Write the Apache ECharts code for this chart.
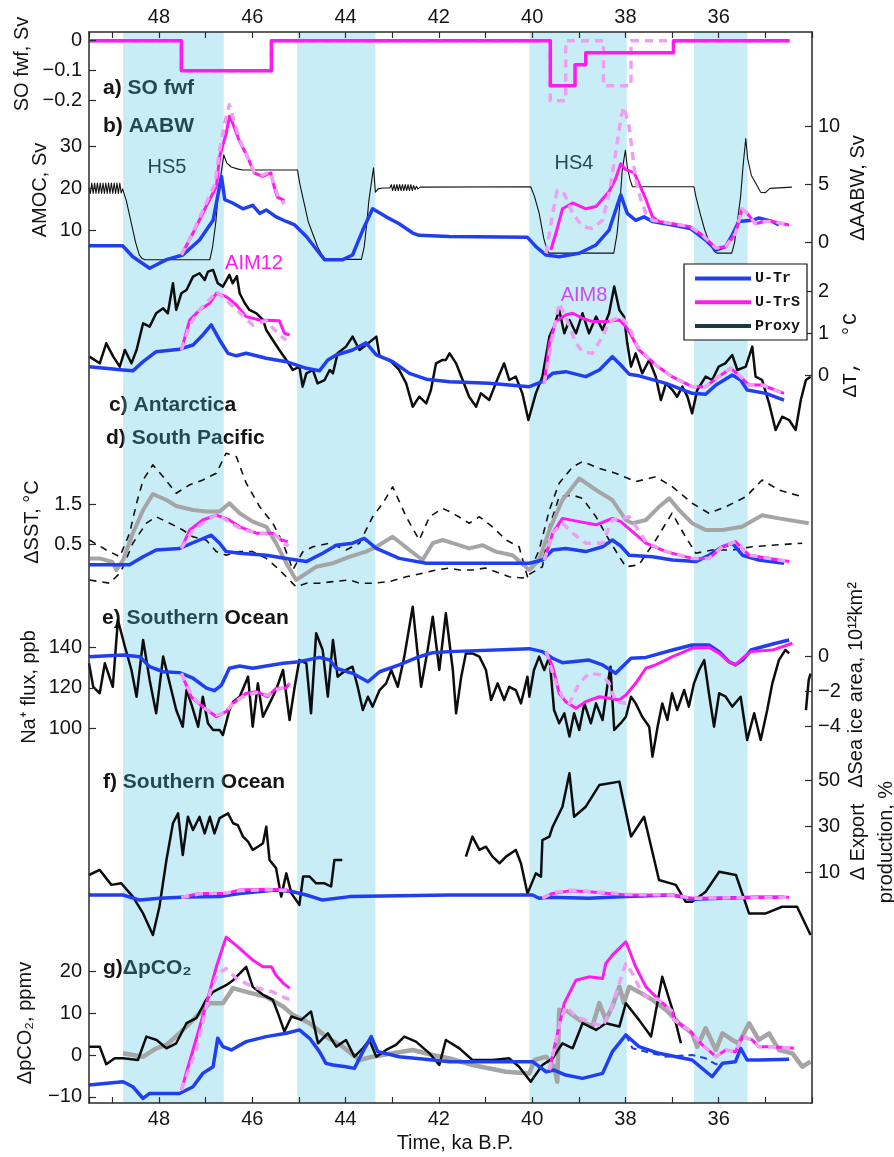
<!DOCTYPE html>
<html>
<head>
<meta charset="utf-8">
<script src="https://cdn.jsdelivr.net/npm/echarts@6/dist/echarts.min.js"></script>
<style>
html,body{margin:0;padding:0;background:#fff;}
#chart{width:894px;height:1157px;}
</style>
</head>
<body>
<div id="chart"></div>
<script>
// ---------------- DATA (time in ka B.P., values in axis units) ----------------
const X_LABELS = [36,38,40,42,44,46,48];
const BANDS = [[48.77,46.61],[45.04,43.36],[40.06,37.97],[36.53,35.38]];

// a) SO freshwater forcing (Sv)
const FWF_UTRS = [[49.5,0],[47.52,0],[47.52,-0.1],[45.59,-0.1],[45.59,0],[39.61,0],[39.61,-0.15],[39.08,-0.15],[39.08,-0.08],[38.85,-0.08],[38.85,-0.04],[36.97,-0.04],[36.97,0],[34.48,0]];
const FWF_DASH = [[49.5,0],[47.52,0],[47.52,-0.1],[45.59,-0.1],[45.59,0],[39.61,0],[39.61,-0.2],[39.28,-0.2],[39.28,0],[38.47,0],[38.47,-0.15],[37.88,-0.15],[37.88,0],[34.48,0]];

// b) AMOC (Sv, left) and dAABW (Sv, right)
const AMOC = [[49.5,20],[49.47,18.7],[49.44,21.2],[49.41,18.7],[49.38,21.2],[49.35,18.7],[49.32,21.2],[49.29,18.7],[49.26,21.2],[49.23,18.7],[49.2,21.2],[49.17,18.7],[49.14,21.2],[49.11,18.7],[49.08,21.2],[49.05,18.7],[49.02,21.2],[48.99,18.7],[48.96,21.2],[48.93,18.7],[48.9,21.2],[48.87,18.7],[48.84,21.2],[48.81,18.8],[48.78,19.8],
[48.7,17],[48.6,12],[48.5,7],[48.42,4],[48.36,3.2],[48.3,2.9],[46.91,2.9],[46.85,6],[46.78,12],[46.72,20],[46.66,24],[46.61,27.9],[46.55,26],[46.45,25],[46.3,24.5],[46.2,24.3],[45.03,24.3],[44.98,21],[44.9,17],[44.8,12],[44.7,9],[44.6,6],[44.5,4],[44.43,3],[43.66,3],[43.6,6],[43.55,11],[43.5,17],[43.45,21],[43.4,24.8],[43.36,19],[43.3,19.8],[43.2,20],[43.05,20],[43.02,20.8],[42.99,19.4],[42.96,20.8],[42.93,19.4],[42.9,20.8],[42.87,19.4],[42.84,20.8],[42.81,19.4],[42.78,20.8],[42.75,19.4],[42.72,20.8],[42.69,19.4],[42.66,20.8],[42.63,19.4],[42.6,20.8],[42.57,19.4],[42.54,20.6],[42.51,19.6],[42.48,20.4],[42.45,19.8],[42.4,20.2],[40.03,20.3],
[39.95,18],[39.85,14],[39.75,8],[39.7,6],[39.64,4.5],[38.25,4.5],[38.18,9],[38.12,16],[38.07,24],[38.03,27],[38.0,29],[37.96,25],[37.9,22],[37.85,20.3],[36.53,20.3],[36.49,18],[36.4,14],[36.3,10],[36.2,7],[36.1,5],[36.04,4.5],[35.72,4.5],[35.66,7],[35.6,12],[35.53,18],[35.48,25],[35.42,31.8],[35.38,27],[35.3,23],[35.2,21],[35.1,19],[35.0,18.9],[34.9,19.9],[34.43,20.2]];
const AABW_UTR = [[49.5,-0.3],[48.78,-0.3],[48.56,-1.25],[48.2,-2.25],[47.84,-1.5],[47.49,-1.1],[47.13,0.2],[46.84,1.9],[46.66,5.7],[46.59,3.7],[46.42,3.4],[46.2,2.9],[45.99,3.2],[45.84,2.5],[45.7,2.8],[45.49,2.2],[45.27,1.8],[45.09,1.5],[44.84,0.5],[44.56,-0.95],[44.45,-1.5],[44.06,-1.5],[43.85,-1.1],[43.63,1.06],[43.42,2.9],[43.13,2.2],[42.85,1.6],[42.56,0.8],[42.42,0.6],[41.78,0.5],[40.1,0.43],[39.92,-0.38],[39.7,-1.1],[39.42,-1.25],[38.99,-0.95],[38.63,-0.23],[38.35,1.06],[38.1,4.1],[37.96,2.5],[37.78,1.9],[37.6,2.2],[37.42,1.8],[36.99,1.5],[36.61,1.2],[36.28,0.2],[36.06,-0.67],[35.85,-0.38],[35.71,0.63],[35.57,1.8],[35.28,1.9],[35.14,2.1],[34.85,1.8],[34.71,1.5]];
const AABW_UTRS_1 = [[47.52,-1.1],[47.27,0.8],[46.99,3.1],[46.77,4.8],[46.7,7.4],[46.56,9.4],[46.49,10.9],[46.42,10.3],[46.28,8.8],[46.1,7.4],[45.96,6.0],[45.78,5.7],[45.6,6.0],[45.53,4.8],[45.46,3.9],[45.31,3.6]];
const AABW_UTRS_2 = [[39.6,-0.67],[39.49,0.78],[39.35,2.9],[39.13,3.4],[38.85,2.9],[38.63,3.1],[38.35,4.4],[38.21,5.5],[38.1,6.8],[38.0,6.3],[37.81,6.0],[37.71,5.1],[37.56,3.7],[37.42,2.2],[37.28,1.8],[36.99,1.6],[36.61,1.35],[36.35,0.63],[36.06,-0.5],[35.85,-0.38],[35.64,0.78],[35.5,2.9],[35.39,2.5],[35.21,1.6],[35.03,1.8],[34.85,1.8],[34.49,1.5]];
const AABW_DASH_1 = [[47.52,-1.1],[47.3,0.6],[47.0,3.3],[46.8,5],[46.7,8],[46.58,10.5],[46.49,11.9],[46.4,10.6],[46.28,9],[46.1,7.3],[45.96,6.1],[45.78,5.8],[45.62,6.1],[45.53,5],[45.45,4],[45.31,3.3]];
const AABW_DASH_2 = [[39.7,-0.95],[39.56,2.5],[39.46,4.5],[39.31,4.2],[39.13,2.5],[38.92,1.35],[38.71,1.2],[38.49,1.9],[38.35,4.2],[38.21,7.7],[38.09,10.9],[38.03,11.7],[37.92,10],[37.85,7.7],[37.78,5.4],[37.67,3.7],[37.56,2.5],[37.42,1.9],[37.28,1.8],[36.99,1.6],[36.61,1.35],[36.35,0.63],[36.06,-0.5],[35.85,-0.38],[35.64,0.78],[35.5,2.9],[35.39,2.5],[35.21,1.6],[35.03,1.8],[34.85,1.8],[34.49,1.5]];

// c) Antarctica dT (deg C, right)
const ANT_PROXY = [[49.49,0.44],[49.27,0.28],[49.13,0.76],[48.98,0.44],[48.84,0.2],[48.73,0.6],[48.59,0.28],[48.48,0.6],[48.34,1.24],[48.2,1.16],[48.06,1.48],[47.91,1.6],[47.81,1.48],[47.7,2.2],[47.63,1.56],[47.52,1.96],[47.41,2.04],[47.27,2.36],[47.13,2.44],[47.02,2.28],[46.95,2.48],[46.84,2.52],[46.74,2.2],[46.63,2.12],[46.49,2.4],[46.42,2.2],[46.33,2.37],[46.27,1.96],[46.16,1.72],[46.06,1.56],[45.91,1.48],[45.77,1.32],[45.7,1.08],[45.56,0.84],[45.42,0.6],[45.27,0.36],[45.13,0.12],[44.99,0.2],[44.92,-0.28],[44.84,0.04],[44.7,0.12],[44.6,-0.2],[44.45,-0.12],[44.34,0.12],[44.27,0.04],[44.17,0.52],[43.99,0.68],[43.85,0.92],[43.7,0.6],[43.56,0.72],[43.34,0.92],[43.27,0.44],[43.06,0.36],[42.85,0.12],[42.7,-0.2],[42.56,-0.76],[42.42,-0.52],[42.27,-0.68],[42.17,-0.36],[42.06,0.28],[41.92,0.36],[41.85,0.36],[41.77,0.52],[41.63,0.28],[41.49,-0.12],[41.35,-0.52],[41.2,-0.76],[41.1,-0.44],[40.92,-0.6],[40.78,-0.2],[40.6,0.28],[40.49,-0.12],[40.35,-0.04],[40.21,-0.44],[40.08,-1.08],[39.92,-0.44],[39.78,-0.04],[39.63,0.92],[39.53,1.16],[39.42,1.56],[39.31,1.0],[39.2,1.32],[39.06,1.0],[38.92,1.48],[38.78,1.0],[38.63,1.4],[38.49,1.08],[38.35,1.48],[38.24,2.12],[38.13,1.56],[38.03,1.4],[37.96,0.76],[37.88,0.2],[37.78,0.52],[37.64,0.04],[37.49,0.36],[37.35,-0.04],[37.24,-0.6],[37.13,-0.2],[36.99,-0.36],[36.89,-0.52],[36.78,-0.28],[36.67,-0.52],[36.57,-0.92],[36.46,-0.36],[36.28,-0.04],[36.14,-0.12],[36.0,0.2],[35.86,0.28],[35.71,0.48],[35.6,0.12],[35.42,0.2],[35.28,0.68],[35.21,-0.04],[35.07,-0.12],[34.92,-0.68],[34.78,-1.32],[34.64,-1.0],[34.49,-1.08],[34.35,-1.32],[34.24,-0.6],[34.13,-0.12],[34.03,-0.04]];
const ANT_UTR = [[49.49,0.2],[48.77,0.12],[48.56,0.1],[48.34,0.32],[48.06,0.56],[47.56,0.62],[47.27,0.72],[47.06,0.96],[46.88,1.2],[46.7,0.84],[46.52,0.52],[46.34,0.46],[46.13,0.52],[45.7,0.4],[45.27,0.32],[44.84,0.16],[44.56,0.1],[44.38,0.36],[44.2,0.48],[43.85,0.6],[43.56,0.77],[43.34,0.48],[42.99,0.32],[42.63,0.04],[42.27,-0.1],[41.77,-0.16],[40.92,-0.2],[40.06,-0.28],[39.78,-0.16],[39.56,0.04],[39.28,0.08],[38.85,-0.04],[38.56,0.12],[38.28,0.44],[38.1,0.24],[37.92,0.02],[37.71,-0.02],[37.13,-0.2],[36.57,-0.44],[36.28,-0.46],[36.06,-0.24],[35.71,0],[35.53,-0.12],[35.39,-0.36],[34.99,-0.44],[34.6,-0.6]];
const ANT_UTRS_1 = [[47.52,0.6],[47.34,1.32],[47.13,1.56],[46.91,1.72],[46.77,1.96],[46.56,1.88],[46.34,1.68],[46.13,1.4],[45.84,1.32],[45.42,1.3],[45.31,1.0],[45.2,0.96]];
const ANT_UTRS_2 = [[39.74,-0.2],[39.63,0.76],[39.49,1.28],[39.28,1.44],[39.13,1.48],[38.92,1.36],[38.71,1.28],[38.42,1.28],[38.13,1.32],[37.99,1.16],[37.88,0.96],[37.71,0.6],[37.35,0.24],[37.0,-0.04],[36.57,-0.28],[36.28,-0.28],[36.0,-0.04],[35.74,0.16],[35.57,0],[35.35,-0.24],[35.07,-0.24],[34.6,-0.44]];
const ANT_DASH_1 = [[47.52,0.6],[47.34,1.2],[47.13,1.56],[46.84,1.9],[46.77,2.0],[46.56,1.8],[46.27,1.5],[45.99,1.2],[45.7,1.3],[45.42,0.96],[45.27,0.84]];
const ANT_DASH_2 = [[39.74,-0.2],[39.56,0.92],[39.42,1.72],[39.28,1.4],[39.06,0.76],[38.92,0.56],[38.71,0.52],[38.49,0.92],[38.35,1.28],[38.1,1.4],[37.92,1.16],[37.75,0.7],[37.5,0.4],[37.35,0.24],[37.0,-0.04],[36.57,-0.28],[36.28,-0.28],[36.0,-0.04],[35.74,0.16],[35.57,0],[35.35,-0.24],[35.07,-0.24],[34.6,-0.44]];

// d) South Pacific dSST (deg C, left)
const SST_PROXY = [[49.49,0.14],[49.27,0.14],[49.0,0.05],[48.91,-0.15],[48.77,0.1],[48.56,0.77],[48.34,1.35],[48.13,1.75],[47.84,1.6],[47.63,1.45],[47.27,1.35],[46.99,1.31],[46.7,1.31],[46.49,1.52],[46.27,1.27],[45.99,1.06],[45.7,0.93],[45.49,0.52],[45.27,0.02],[45.06,-0.4],[44.63,-0.07],[44.27,0.02],[43.92,0.18],[43.56,0.31],[43.34,0.43],[42.99,0.68],[42.63,0.35],[42.35,0.1],[42.13,0.52],[41.92,0.6],[41.7,0.52],[41.35,0.39],[41.06,0.47],[40.78,0.31],[40.42,0.22],[40.06,-0.15],[39.85,0.1],[39.63,0.85],[39.35,1.6],[38.99,2.14],[38.63,1.85],[38.28,1.6],[37.99,1.1],[37.85,1.02],[37.56,1.1],[37.28,1.43],[37.06,1.64],[36.85,1.35],[36.57,1.02],[36.28,0.85],[35.92,0.85],[35.5,0.93],[35.07,1.22],[34.71,1.14],[34.07,1.02]];
const SST_UPPER = [[49.49,0.6],[49.13,0.35],[48.84,0.18],[48.63,0.77],[48.48,1.52],[48.34,2.1],[48.13,2.48],[47.91,2.18],[47.63,1.77],[47.34,1.98],[47.06,2.1],[46.77,2.27],[46.56,2.77],[46.34,2.68],[46.13,2.02],[45.84,1.43],[45.56,1.02],[45.34,0.52],[45.13,-0.15],[44.92,0.3],[44.7,0.43],[44.34,0.52],[43.99,0.35],[43.7,0.52],[43.42,1.18],[43.2,1.52],[42.99,1.93],[42.7,1.18],[42.42,0.6],[42.2,1.18],[41.92,1.39],[41.7,1.27],[41.35,1.02],[41.13,1.18],[40.85,0.93],[40.56,0.6],[40.28,0.43],[40.1,-0.32],[39.85,0.35],[39.63,1.35],[39.42,2.02],[39.13,2.43],[38.92,2.56],[38.56,2.39],[38.21,2.27],[37.78,2.06],[37.35,2.18],[36.99,1.93],[36.57,1.52],[36.21,1.27],[35.85,1.43],[35.42,1.68],[35.07,2.1],[34.71,1.85],[34.21,1.68]];
const SST_LOWER = [[49.49,-0.4],[49.06,-0.48],[48.84,-0.23],[48.77,-0.07],[48.56,0.52],[48.27,1.02],[48.06,1.18],[47.77,1.02],[47.49,0.85],[47.27,0.68],[46.99,0.6],[46.77,0.31],[46.56,0.22],[46.27,0.31],[45.99,0.31],[45.7,0.14],[45.49,-0.07],[45.27,-0.32],[45.06,-0.57],[44.84,-0.48],[44.56,-0.48],[44.27,-0.44],[43.91,-0.4],[43.7,-0.48],[43.42,-0.48],[43.06,-0.44],[42.7,-0.32],[42.35,-0.23],[42.06,-0.15],[41.77,-0.1],[41.56,-0.15],[41.28,-0.15],[41.0,-0.1],[40.49,-0.32],[40.2,-0.35],[39.78,-0.07],[39.63,0.93],[39.42,1.68],[39.13,1.72],[38.92,1.64],[38.63,1.18],[38.35,0.6],[38.13,0.18],[37.99,-0.07],[37.71,-0.02],[37.35,0.6],[37.0,1.27],[36.71,0.68],[36.49,0.27],[36.14,0.35],[35.71,0.35],[35.28,0.43],[34.85,0.47],[34.21,0.52]];
const SST_UTR = [[49.49,-0.02],[48.63,-0.02],[48.34,0.18],[48.06,0.35],[47.56,0.39],[47.13,0.6],[46.88,0.72],[46.7,0.52],[46.56,0.31],[46.27,0.27],[45.7,0.22],[45.27,0.14],[44.84,0.06],[44.49,0.27],[44.2,0.47],[43.85,0.52],[43.6,0.64],[43.34,0.39],[42.85,0.14],[42.27,0.02],[41.77,0.02],[40.06,0.02],[39.78,0.1],[39.56,0.35],[39.28,0.39],[38.85,0.31],[38.49,0.43],[38.28,0.6],[38.1,0.45],[37.92,0.22],[37.42,0.18],[36.99,0.1],[36.49,0.06],[36.21,0.22],[35.92,0.43],[35.71,0.52],[35.49,0.22],[35.14,0.1],[34.6,0.02]];
const SST_UTRS_1 = [[47.52,0.39],[47.34,0.85],[47.06,1.1],[46.77,1.22],[46.49,1.1],[46.27,0.93],[45.91,0.77],[45.56,0.77],[45.38,0.6],[45.24,0.56]];
const SST_UTRS_2 = [[39.74,0.1],[39.56,0.77],[39.35,1.14],[38.99,1.06],[38.63,0.98],[38.28,1.14],[38.1,1.06],[37.85,0.81],[37.56,0.52],[37.13,0.31],[36.57,0.14],[36.21,0.14],[35.92,0.43],[35.64,0.56],[35.35,0.22],[34.49,0.06]];
const SST_DASH_1 = [[47.52,0.39],[47.3,0.8],[47.0,1.08],[46.75,1.25],[46.5,1.05],[46.2,0.85],[45.9,0.78],[45.5,0.72],[45.3,0.5],[45.22,0.45]];
const SST_DASH_2 = [[39.74,0.1],[39.56,0.77],[39.35,1.02],[39.13,0.77],[38.85,0.52],[38.49,0.52],[38.28,1.1],[37.92,1.18],[37.78,0.95],[37.56,0.55],[37.13,0.31],[36.57,0.14],[36.21,0.14],[35.92,0.43],[35.64,0.56],[35.35,0.22],[34.49,0.06]];

// e) Southern Ocean: Na+ flux (ppb, left) and dSea ice area (1e12 km2, right)
const NA_PROXY_1 = [[49.5,132.1],[49.41,120.5],[49.27,117.3],[49.16,132.1],[48.99,120.5],[48.88,153.5],[48.73,140.3],[48.59,128.8],[48.48,115.6],[48.34,143.6],[48.2,123.9],[48.06,107.4],[47.91,135.4],[47.77,122.2],[47.63,109],[47.49,100.8],[47.41,118.9],[47.31,112.3],[47.16,100.8],[47.06,115.6],[46.95,102.5],[46.84,99.2],[46.7,99.2],[46.63,96.7],[46.49,109],[46.41,113.1],[46.27,115.6],[46.09,125.5],[45.99,100.8],[45.88,122.2],[45.77,105.7],[45.63,112.3],[45.49,118.9],[45.34,128.8],[45.2,104.1],[45.09,120.5],[44.99,133.7],[44.84,132.1],[44.74,107.4],[44.63,146.9],[44.49,138.7],[44.38,115.6],[44.27,143.6],[44.17,125.5],[43.99,128.8],[43.85,130.4],[43.74,120.5],[43.63,109],[43.52,115.6],[43.42,110.7],[43.27,118.9],[43.13,122.2],[43.02,128.8],[42.88,120.5],[42.74,135.4],[42.56,160],[42.38,120.5],[42.24,138.7],[42.13,155.1],[41.99,128.8],[41.85,156.8],[41.7,128.8],[41.63,107.4],[41.52,125.5],[41.42,137],[41.28,137],[41.13,135.4],[40.99,128.8],[40.88,114],[40.74,122.2],[40.6,114],[40.49,120.5],[40.35,118.9],[40.24,112.3],[40.1,125.5],[40.06,115.6],[39.96,128.8],[39.85,135.4],[39.74,128.8],[39.63,135.4],[39.53,109],[39.42,102.5],[39.31,107.4],[39.2,95.9],[39.1,107.4],[38.99,99.2],[38.88,112.3],[38.74,102.5],[38.63,112.3],[38.49,104.1],[38.39,120.5],[38.32,130.4],[38.24,99.2],[38.1,102.5],[37.99,105.7],[37.88,115.6],[37.78,112.3],[37.64,105.7],[37.49,100.8],[37.42,86],[37.31,100.8],[37.21,112.3],[37.1,104.1],[37.0,117.3],[36.89,109],[36.74,118.9],[36.64,110.7],[36.53,122.2],[36.42,128.8],[36.31,133.7],[36.21,117.3],[36.1,100.8],[35.99,117.3],[35.85,115.6],[35.71,110.7],[35.53,115.6],[35.39,94.2],[35.24,107.4],[35.1,94.2],[34.96,109],[34.85,122.2],[34.71,133.7],[34.57,138.7],[34.49,137]];
const NA_PROXY_2 = [[34.13,109],[34.07,123.9],[34.03,127]];
const ICE_UTR = [[49.5,0],[48.77,0.1],[48.41,0],[48.2,-0.57],[47.91,-0.86],[47.56,-0.91],[47.27,-1.23],[46.98,-1.8],[46.81,-1.94],[46.66,-1.62],[46.49,-0.66],[46.27,-0.53],[45.99,-0.66],[45.7,-0.53],[45.34,-0.38],[44.99,-0.29],[44.56,-0.04],[44.34,-0.19],[44.2,-0.66],[43.85,-0.95],[43.52,-1.43],[43.27,-0.86],[42.85,-0.47],[42.42,0],[42.13,0.23],[41.77,0.29],[40.06,0.46],[39.78,0.29],[39.56,-0.09],[39.35,-0.34],[38.78,-0.19],[38.49,-0.47],[38.21,-0.95],[37.88,-0.09],[37.56,-0.04],[36.99,0.38],[36.57,0.67],[36.21,0.67],[35.99,0.29],[35.78,-0.29],[35.64,-0.47],[35.49,-0.19],[35.31,0.38],[35.06,0.57],[34.78,0.77],[34.49,0.95]];
const ICE_UTRS_1 = [[47.52,-0.95],[47.31,-2.29],[47.06,-2.86],[46.77,-3.43],[46.56,-3.14],[46.41,-2.66],[46.13,-2.09],[45.91,-2.0],[45.67,-2.29],[45.49,-1.8],[45.28,-1.8],[45.2,-1.52]];
const ICE_UTRS_2 = [[39.7,0.29],[39.56,-0.57],[39.42,-2.09],[39.28,-2.57],[39.06,-2.95],[38.85,-2.57],[38.56,-2.29],[38.35,-2.38],[38.13,-2.47],[37.99,-2.19],[37.78,-1.52],[37.56,-0.66],[37.35,-0.47],[36.99,0],[36.57,0.48],[36.21,0.54],[35.99,0.19],[35.78,-0.29],[35.64,-0.47],[35.49,-0.09],[35.31,0.29],[34.85,0.38],[34.42,0.77]];
const ICE_DASH_1 = [[47.52,-0.95],[47.3,-2.2],[47.06,-2.9],[46.77,-3.35],[46.56,-3.2],[46.41,-2.6],[46.13,-2.2],[45.91,-2.05],[45.67,-2.2],[45.49,-1.9],[45.28,-1.75],[45.2,-1.6]];
const ICE_DASH_2 = [[39.7,0.29],[39.49,-1.52],[39.35,-2.29],[39.2,-2.66],[38.99,-1.52],[38.78,-0.95],[38.49,-1.05],[38.35,-1.52],[38.21,-2.57],[37.99,-2.66],[37.85,-2.57]];

// f) Southern Ocean export production (%, right)
const EXP_PROXY_1 = [[49.5,9.0],[49.27,11.2],[49.02,4.7],[48.81,5.4],[48.56,-0.4],[48.34,-7.7],[48.13,-17.1],[47.99,-4.8],[47.84,15.5],[47.7,31.5],[47.59,35.8],[47.49,17.7],[47.38,34.3],[47.27,28.6],[47.13,34.3],[47.02,27.1],[46.91,34.3],[46.81,27.1],[46.7,33.7],[46.52,35.8],[46.41,31.5],[46.31,30.7],[46.2,25.7],[46.09,23.5],[45.99,19.9],[45.88,21.3],[45.77,22.8],[45.7,30],[45.63,15.5],[45.49,12],[45.38,-0.4],[45.27,9.7],[45.16,1.0],[44.99,-4.0],[44.91,8.3],[44.77,8.3],[44.63,5.4],[44.45,5.4],[44.31,4.0],[44.24,15.5],[44.07,15.5]];
const EXP_PROXY_2 = [[41.42,17],[41.28,25.7],[41.13,19.9],[40.99,21.3],[40.85,17],[40.7,14.1],[40.56,17],[40.35,19.9],[40.24,14.1],[40.1,1.0],[39.92,9.7],[39.81,8.3],[39.78,24.2],[39.63,25.7],[39.56,30],[39.35,38.7],[39.2,53.2],[39.1,34.3],[38.85,38.7],[38.56,48.1],[38.13,49.6],[37.88,25.7],[37.6,34.3],[37.28,6.8],[36.92,4.7],[36.71,-2.6],[36.57,-2.6],[36.28,1.7],[35.99,10.4],[35.63,9.0],[35.35,-7.7],[34.99,-7.7],[34.64,-4.8],[34.32,-4.8],[34.03,-17.1]];
const EXP_UTR = [[49.5,0.3],[48.77,0.3],[48.41,-1.9],[47.99,-1.1],[47.41,-0.6],[46.7,-0.4],[46.27,1.0],[45.49,2.5],[45.13,1.7],[44.84,0.3],[44.49,-1.9],[43.91,-0.4],[41.77,0.3],[39.99,0.3],[39.85,-1.1],[39.63,-0.7],[38.78,-1.1],[37.99,-0.4],[36.99,0.3],[36.57,-1.5],[35.92,-1.1],[35.21,-0.7],[34.6,-0.7]];
const EXP_UTRS_1 = [[47.52,-0.8],[47.13,1.0],[46.56,1.0],[46.27,2.5],[45.7,2.8],[45.27,2.5],[45.2,1.7]];
const EXP_UTRS_2 = [[39.78,-1.1],[39.56,1.0],[39.2,2.1],[38.78,1.7],[37.99,0.3],[36.99,0.3],[36.57,-1.1],[34.49,-0.7]];
const EXP_DASH_1 = [[47.52,-0.8],[47.13,0.8],[46.56,1.2],[46.27,2.2],[45.7,2.6],[45.27,2.3],[45.2,1.9]];
const EXP_DASH_2 = [[39.78,-1.1],[39.56,1.3],[39.2,2.4],[38.78,1.9],[37.99,0.6],[36.99,0.3],[36.57,-1.1],[34.49,-0.7]];

// g) dpCO2 (ppmv, left)
const CO2_PROXY = [[49.5,2.0],[49.27,2.0],[49.13,-2.2],[48.95,-0.8],[48.77,-0.8],[48.45,-1.2],[48.27,4.4],[48.05,3.6],[47.84,1.6],[47.63,2.8],[47.41,7.6],[47.2,8.8],[46.99,13.2],[46.84,15.1],[46.56,16.7],[46.41,17.9],[46.13,21.1],[45.99,16.3],[45.77,14.4],[45.56,13.2],[45.45,10.0],[45.31,5.6],[45.16,9.2],[44.95,8.4],[44.74,10.4],[44.59,2.8],[44.38,5.2],[44.2,2.0],[43.99,3.6],[43.81,-0.4],[43.63,1.6],[43.49,3.6],[43.34,-0.4],[43.13,1.2],[42.92,2.4],[42.74,4.4],[42.49,3.2],[42.2,0.4],[41.99,-2.4],[41.85,3.6],[41.56,1.6],[41.28,-1.2],[40.85,-1.2],[40.49,-0.8],[40.28,-2.8],[40.03,-6.4],[39.78,-2.4],[39.56,-0.8],[39.35,2.8],[39.13,1.6],[38.92,7.6],[38.63,6.0],[38.42,7.6],[38.13,6.8],[37.99,12.4],[37.71,8.4],[37.45,4.4],[37.21,18.7],[36.99,10.8],[36.81,2.8]];
const CO2_GRAY = [[48.77,0.4],[48.34,-0.4],[48.06,1.6],[47.84,2.4],[47.56,5.2],[47.34,7.6],[47.13,10.0],[46.91,12.4],[46.63,12.4],[46.41,16.0],[46.13,15.1],[45.7,13.9],[45.34,11.6],[45.13,9.6],[44.77,7.6],[44.42,4.4],[44.06,2.0],[43.7,-1.2],[43.42,-0.4],[42.99,0.4],[42.56,1.2],[42.13,0],[41.77,-0.8],[41.28,-2.4],[40.56,-4.0],[40.06,-4.4],[39.95,-1.2],[39.7,-0.4],[39.53,-2.8],[39.46,-6.4],[39.42,10.8],[39.24,10.4],[38.99,8.4],[38.71,6.8],[38.56,12.4],[38.42,8.4],[38.28,11.6],[38.13,16.3],[38.03,12.4],[37.92,16.3],[37.71,15.1],[37.42,13.2],[37.13,10.8],[36.85,7.6],[36.57,5.2],[36.46,2.0],[36.28,6.4],[36.06,1.2],[35.92,5.2],[35.71,3.6],[35.57,2.8],[35.35,7.6],[35.14,3.6],[34.92,5.2],[34.71,1.2],[34.42,0.4],[34.21,-2.8],[34.03,-1.6]];
const CO2_UTR = [[49.5,-7.2],[48.77,-6.4],[48.56,-7.6],[48.34,-10.4],[48.2,-9.2],[47.56,-9.2],[47.27,-7.6],[47.06,-4.4],[46.84,-2.8],[46.74,4.0],[46.63,2.0],[46.45,1.2],[46.13,3.2],[45.7,4.4],[45.27,5.2],[44.99,6.0],[44.77,4.0],[44.56,0.8],[44.42,-2.0],[44.27,-2.4],[43.99,-2.8],[43.81,-3.2],[43.63,0.8],[43.45,4.4],[43.31,0.8],[42.85,-0.4],[42.13,-1.2],[41.77,-1.6],[39.99,-1.6],[39.7,-4.0],[39.53,-3.6],[39.28,-4.8],[38.92,-5.6],[38.49,-4.4],[38.28,0.8],[37.99,4.8],[37.71,2.0],[37.28,0.4],[36.57,-1.2],[36.14,-5.2],[35.92,-2.0],[35.64,-1.6],[35.53,1.6],[35.39,-1.2],[35.14,-1.2],[34.49,-1.0]];
const CO2_UTR_DASH = [[37.99,4.8],[37.85,1.6],[37.13,-0.4],[36.57,0],[36.28,-0.8],[36.06,-2.2],[35.92,-2.0]];
const CO2_UTRS_1 = [[47.52,-8.4],[47.27,1.2],[46.98,12.4],[46.77,21.1],[46.56,28.2],[46.27,25.5],[45.99,22.7],[45.77,21.1],[45.59,21.1],[45.49,19.1],[45.34,17.2],[45.2,16.0]];
const CO2_UTRS_2 = [[39.63,-3.6],[39.49,3.6],[39.31,12.4],[39.06,17.9],[38.78,18.7],[38.49,18.3],[38.42,21.9],[38.28,23.9],[37.99,27.1],[37.78,21.1],[37.56,16.3],[37.28,13.2],[36.99,10.4],[36.96,8.4],[36.64,6.0],[36.35,2.4],[36.06,-0.4],[35.85,1.2],[35.64,0.8],[35.49,4.4],[35.28,3.6],[35.14,2.0],[34.85,2.0],[34.39,1.6]];
const CO2_DASH_1 = [[47.52,-8.4],[47.2,1.2],[46.91,14.8],[46.74,19.5],[46.56,20.7],[46.34,18.3],[45.99,16.3],[45.56,15.1],[45.2,13.2]];
const CO2_DASH_2 = [[39.63,-3.6],[39.4,8.0],[39.28,11.6],[39.06,9.2],[38.78,8.0],[38.49,6.8],[38.31,10.8],[38.13,17.2],[37.99,21.9],[37.85,19.5],[37.71,16.3],[37.56,14.0],[37.28,13.2],[36.99,10.4],[36.96,8.4],[36.64,6.0],[36.35,2.4],[36.06,-0.4],[35.85,1.2],[35.64,0.8],[35.49,4.4],[35.28,3.6],[35.14,2.0],[34.85,2.0],[34.39,1.6]];

// ---------------- LAYOUT ----------------
const FONT = "'Liberation Sans', Arial, Helvetica, sans-serif";
const MONO = "'Liberation Mono', 'DejaVu Sans Mono', monospace";
const BLUE = '#1f3ff0', MAG = '#ff1af0', PINK = '#eda0f2', PROXY = '#0d0d0d', GRAY = '#a5a5a5', AXC = '#2a2a2a', TXC = '#141414';
const LEFT = 89, RIGHT = 82, TOP = 32, BOTTOM = 54;
const T_MIN = 34, T_MAX = 49.5;

const PANELS = [
  {side:'left',  min:-0.2, max:0,   interval:0.1, yTop:40.7,  yBot:100.7},   // 1 fwf
  {side:'left',  min:10,   max:30,  interval:10,  yTop:146,   yBot:230},     // 2 AMOC
  {side:'right', min:0,    max:10,  interval:5,   yTop:126.7, yBot:242.3},   // 3 dAABW
  {side:'right', min:0,    max:2,   interval:1,   yTop:291.6, yBot:375},     // 4 dT
  {side:'left',  min:0.5,  max:1.5, interval:1,   yTop:504,   yBot:544},     // 5 dSST
  {side:'left',  min:100,  max:140, interval:20,  yTop:647.3, yBot:728.3},   // 6 Na
  {side:'right', min:-4,   max:0,   interval:2,   yTop:656.7, yBot:726.7},   // 7 sea ice
  {side:'right', min:10,   max:50,  interval:20,  yTop:780.7, yBot:872.7},   // 8 export
  {side:'left',  min:-10,  max:20,  interval:10,  yTop:971.4, yBot:1096.8}   // 9 pCO2
];

const minus = v => String(v).replace('-', '\u2212');
const xLabel = v => (X_LABELS.some(t => Math.abs(t - v) < 1e-6) ? String(v) : '');

const grids = [{left:LEFT, right:RIGHT, top:TOP, bottom:BOTTOM}];
const xAxes = [
  {gridIndex:0, type:'value', position:'bottom', min:T_MIN, max:T_MAX, interval:1, inverse:true, z:30,
   axisLine:{show:true, onZero:false, lineStyle:{color:AXC, width:1.5}},
   axisTick:{show:true, inside:true, length:6, lineStyle:{color:AXC, width:1.2}},
   axisLabel:{show:true, margin:6, fontSize:20, fontFamily:FONT, color:TXC, formatter:xLabel},
   splitLine:{show:false}},
  {gridIndex:0, type:'value', position:'top', min:T_MIN, max:T_MAX, interval:1, inverse:true, z:30,
   axisLine:{show:true, onZero:false, lineStyle:{color:AXC, width:1.5}},
   axisTick:{show:true, inside:true, length:6, lineStyle:{color:AXC, width:1.2}},
   axisLabel:{show:true, margin:5, fontSize:20, fontFamily:FONT, color:TXC, formatter:xLabel},
   splitLine:{show:false}}
];
const yAxes = [
  {gridIndex:0, type:'value', position:'left', min:0, max:1, z:30, axisLine:{show:true, onZero:false, lineStyle:{color:AXC, width:1.5}}, axisTick:{show:false}, axisLabel:{show:false}, splitLine:{show:false}},
  {gridIndex:0, type:'value', position:'right', min:0, max:1, z:30, axisLine:{show:true, onZero:false, lineStyle:{color:AXC, width:1.5}}, axisTick:{show:false}, axisLabel:{show:false}, splitLine:{show:false}}
];
PANELS.forEach((p, i) => {
  const g = i + 1;
  grids.push({left:LEFT, right:RIGHT, top:p.yTop, height:p.yBot - p.yTop});
  xAxes.push({gridIndex:g, type:'value', min:T_MIN, max:T_MAX, inverse:true, show:false});
  yAxes.push({gridIndex:g, type:'value', position:p.side, min:p.min, max:p.max, interval:p.interval, z:30,
    axisLine:{show:false, onZero:false},
    axisTick:{show:true, inside:true, length:7, lineStyle:{color:AXC, width:1.2}},
    axisLabel:{show:true, margin:p.side === 'left' ? 7 : 6, fontSize:20, fontFamily:FONT, color:TXC, formatter:minus},
    splitLine:{show:false}});
});

function L(panel, data, color, width, z, dash) {
  return {type:'line', xAxisIndex:panel + 1, yAxisIndex:panel + 1, data:data, symbol:'none', clip:false,
    silent:true, animation:false, z:z, lineStyle:{color:color, width:width, type:dash || 'solid', cap:'butt', join:'round'}};
}

const series = [
  {type:'line', xAxisIndex:0, yAxisIndex:0, data:[], symbol:'none', silent:true, z:20,
   markArea:{silent:true, itemStyle:{color:'rgba(75,195,230,0.30)'}, data:BANDS.map(b => [{xAxis:b[0]}, {xAxis:b[1]}])}},
  L(1, FWF_DASH, PINK, 3.5, 3, [8,6]),
  L(1, FWF_UTRS, MAG, 3.5, 4),
  L(2, AMOC, '#111', 1.1, 2),
  L(3, AABW_UTR, BLUE, 3.5, 3),
  L(3, AABW_UTRS_1, MAG, 3, 4), L(3, AABW_UTRS_2, MAG, 3, 4),
  L(3, AABW_DASH_1, PINK, 3.5, 5, [8,6]), L(3, AABW_DASH_2, PINK, 3.5, 5, [8,6]),
  L(4, ANT_PROXY, PROXY, 2.5, 2),
  L(4, ANT_UTR, BLUE, 3.5, 3),
  L(4, ANT_UTRS_1, MAG, 3, 4), L(4, ANT_UTRS_2, MAG, 3, 4),
  L(4, ANT_DASH_1, PINK, 3.5, 5, [8,6]), L(4, ANT_DASH_2, PINK, 3.5, 5, [8,6]),
  L(5, SST_UPPER, '#111', 1.6, 2, [7,6]), L(5, SST_LOWER, '#111', 1.6, 2, [7,6]),
  L(5, SST_PROXY, GRAY, 4, 2),
  L(5, SST_UTR, BLUE, 3.5, 3),
  L(5, SST_UTRS_1, MAG, 3, 4), L(5, SST_UTRS_2, MAG, 3, 4),
  L(5, SST_DASH_1, PINK, 3.5, 5, [8,6]), L(5, SST_DASH_2, PINK, 3.5, 5, [8,6]),
  L(6, NA_PROXY_1, PROXY, 2.5, 2), L(6, NA_PROXY_2, PROXY, 2.5, 2),
  L(7, ICE_UTR, BLUE, 3.5, 3),
  L(7, ICE_UTRS_1, MAG, 3, 4), L(7, ICE_UTRS_2, MAG, 3, 4),
  L(7, ICE_DASH_1, PINK, 3.5, 5, [8,6]), L(7, ICE_DASH_2, PINK, 3.5, 5, [8,6]),
  L(8, EXP_PROXY_1, PROXY, 2.5, 2), L(8, EXP_PROXY_2, PROXY, 2.5, 2),
  L(8, EXP_UTR, BLUE, 3.5, 3),
  L(8, EXP_UTRS_1, MAG, 3, 4), L(8, EXP_UTRS_2, MAG, 3, 4),
  L(8, EXP_DASH_1, PINK, 3.5, 5, [8,6]), L(8, EXP_DASH_2, PINK, 3.5, 5, [8,6]),
  L(9, CO2_GRAY, GRAY, 4.5, 2),
  L(9, CO2_PROXY, PROXY, 2.5, 2),
  L(9, CO2_UTR_DASH, BLUE, 2, 3, [7,5]),
  L(9, CO2_UTR, BLUE, 3.5, 3),
  L(9, CO2_UTRS_1, MAG, 3, 4), L(9, CO2_UTRS_2, MAG, 3, 4),
  L(9, CO2_DASH_1, PINK, 3.5, 5, [8,6]), L(9, CO2_DASH_2, PINK, 3.5, 5, [8,6])
];

function T(x, y, text, o) {
  o = o || {};
  const al = o.align || 'left';
  return {type:'text', x:x, y:y, z:o.z || 1, rotation:o.rot || 0, silent:true,
    style:{text:text, fill:o.color || TXC, fontSize:o.size || 20, fontFamily:o.family || FONT, fontWeight:o.weight || 'normal',
      align:al, textAlign:al, verticalAlign:'middle', textVerticalAlign:'middle', lineHeight:o.lh || 24}};
}
const R = Math.PI / 2;
const PANEL_LABELS = [
  [103, 88, 'a) SO fwf'], [103, 126, 'b) AABW'], [109, 405, 'c) Antarctica'], [106, 438, 'd) South Pacific'],
  [102, 618, 'e) Southern Ocean'], [103, 782, 'f) Southern Ocean'], [103, 968, 'g)\u0394pCO\u2082']
];
const graphics = [];
PANEL_LABELS.forEach(a => graphics.push(T(a[0], a[1], a[2], {weight:'bold', size:21})));
graphics.push(T(167, 167, 'HS5', {align:'center'}));
graphics.push(T(574, 163, 'HS4', {align:'center'}));
graphics.push(T(254, 263, 'AIM12', {align:'center', color:MAG}));
graphics.push(T(584, 295, 'AIM8', {align:'center', color:MAG}));
graphics.push(T(22, 64, 'SO fwf, Sv', {align:'center', rot:R}));
graphics.push(T(40, 190, 'AMOC, Sv', {align:'center', rot:R}));
graphics.push(T(32, 522, '\u0394SST, \u00b0C', {align:'center', rot:R}));
graphics.push(T(29, 687, 'Na\u207a flux, ppb', {align:'center', rot:R}));
graphics.push(T(25, 1023, '\u0394pCO\u2082, ppmv', {align:'center', rot:R}));
graphics.push(T(858, 188, '\u0394AABW, Sv', {align:'center', rot:R}));
graphics.push(T(851, 355, '\u0394T,  \u00b0C', {align:'center', rot:R, family:MONO}));
graphics.push(T(856, 685, '\u0394Sea ice area, 10\u00b9\u00b2km\u00b2', {align:'center', rot:R}));
graphics.push(T(872, 842, '\u0394 Export\nproduction, %', {align:'center', rot:R, lh:28}));
graphics.push(T(455, 1143, 'Time, ka B.P.', {align:'center'}));
const LEG = [['U-Tr', BLUE], ['U-TrS', MAG], ['Proxy', '#1c3a44']];
graphics.push({type:'rect', z:100, silent:true, shape:{x:684, y:264, width:123, height:76}, style:{fill:'#fff', stroke:'#111', lineWidth:1.2}});
LEG.forEach((e, i) => {
  const y = 278.5 + i * 23.8;
  graphics.push({type:'line', z:101, silent:true, shape:{x1:695, y1:y, x2:751, y2:y}, style:{stroke:e[1], lineWidth:4}});
  graphics.push(T(755, y, e[0], {family:MONO, weight:'bold', size:15, z:101}));
});

const chart = echarts.init(document.getElementById('chart'), null, {renderer:'canvas'});
chart.setOption({
  animation:false,
  backgroundColor:'#fff',
  grid:grids, xAxis:xAxes, yAxis:yAxes, series:series, graphic:graphics
});
</script>
</body>
</html>
